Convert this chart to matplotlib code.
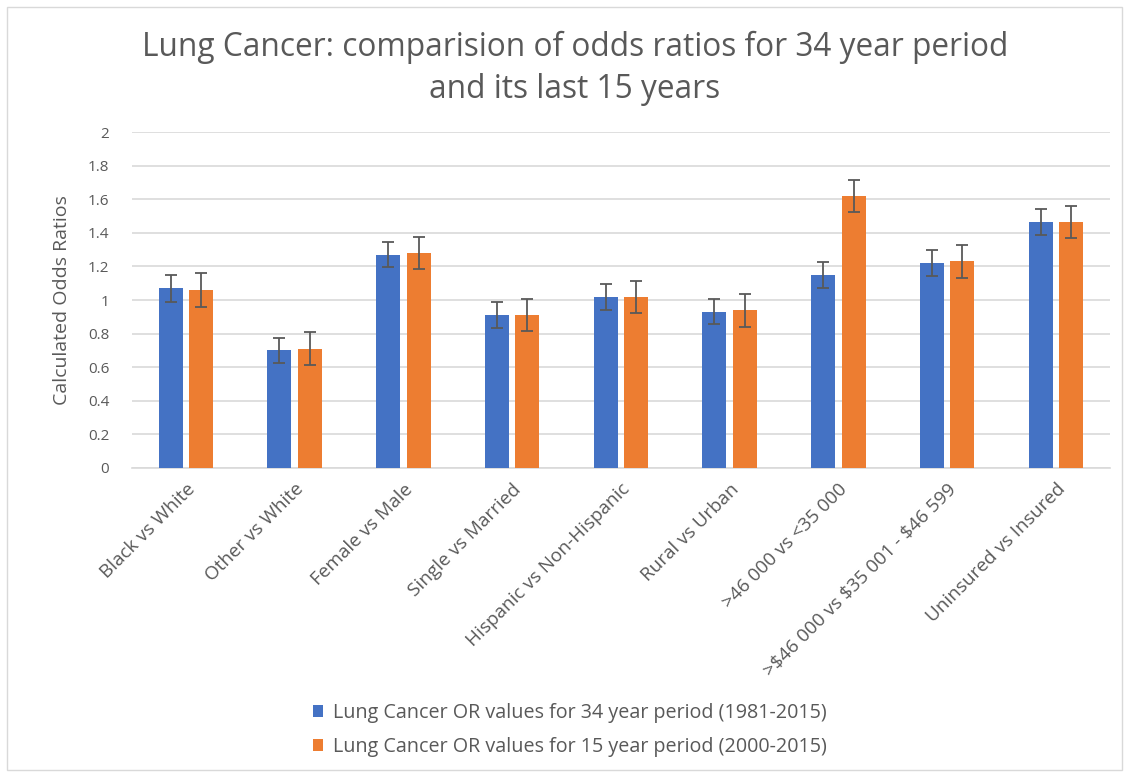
import matplotlib
matplotlib.use('Agg')
import matplotlib.pyplot as plt
import numpy as np
from matplotlib.patches import Rectangle

plt.rcParams['font.family'] = ['Open Sans', 'DejaVu Sans']

categories = ['Black vs White', 'Other vs White', 'Female vs Male', 'Single vs Married',
              'Hispanic vs Non-Hispanic', 'Rural vs Urban', '>46 000 vs <35 000',
              '>$46 000 vs $35 001 - $46 599', 'Uninsured vs Insured']
or_34yr = [1.07, 0.70, 1.27, 0.91, 1.02, 0.93, 1.15, 1.22, 1.465]
err_34yr = [0.08, 0.076, 0.076, 0.076, 0.077, 0.076, 0.076, 0.076, 0.076]
or_15yr = [1.06, 0.71, 1.28, 0.91, 1.02, 0.94, 1.62, 1.23, 1.465]
err_15yr = [0.1, 0.097, 0.097, 0.097, 0.096, 0.098, 0.096, 0.097, 0.097]
label_34 = 'Lung Cancer OR values for 34 year period (1981-2015)'
label_15 = 'Lung Cancer OR values for 15 year period (2000-2015)'

blue = '#4472c4'
orange = '#ed7d31'
grey = '#595959'

fig = plt.figure(figsize=(11.34, 7.75), dpi=100)
ax = fig.add_axes([0.116, 0.3965, 0.863, 0.4328])

x = np.arange(len(categories))
w = 0.22
ekw = dict(ecolor=grey, elinewidth=1.3, capsize=4.5, capthick=1.3)
ax.bar(x - 0.14, or_34yr, w, color=blue, yerr=err_34yr, error_kw=ekw, label=label_34, zorder=3)
ax.bar(x + 0.14, or_15yr, w, color=orange, yerr=err_15yr, error_kw=ekw, label=label_15, zorder=3)

ax.set_xlim(-0.5, len(categories) - 0.5)
ax.set_ylim(0, 2)
ax.set_yticks(np.arange(0, 2.01, 0.2))
ax.set_yticklabels(['0', '0.2', '0.4', '0.6', '0.8', '1', '1.2', '1.4', '1.6', '1.8', '2'])
ax.set_xticks(x)
ax.set_xticklabels(categories, rotation=45, ha='right', rotation_mode='anchor')
ax.tick_params(axis='both', length=0, colors=grey)
ax.tick_params(axis='x', pad=9, labelsize=13.6)
ax.tick_params(axis='y', pad=16, labelsize=11)
ax.grid(axis='y', color='#d9d9d9', linewidth=1.2, zorder=0)
for s in ['top', 'right', 'left']:
    ax.spines[s].set_visible(False)
ax.spines['bottom'].set_color('#d9d9d9')
ax.spines['bottom'].set_linewidth(1.2)

ax.set_ylabel('Calculated Odds Ratios', color=grey, fontsize=14, labelpad=12)

fig.text(0.507, 0.912, 'Lung Cancer: comparision of odds ratios for 34 year period\nand its last 15 years',
         ha='center', va='center', fontsize=22.8, color=grey, linespacing=1.38)

fig.legend(loc='center left', bbox_to_anchor=(0.26, 0.058), frameon=False, ncol=1,
           fontsize=14.2, labelcolor=grey, handlelength=0.55, handleheight=0.55,
           handletextpad=0.5, labelspacing=0.72)

fig.patches.append(Rectangle((0.006, 0.006), 0.983, 0.985, transform=fig.transFigure,
                             fill=False, edgecolor='#d9d9d9', linewidth=1))

fig.savefig('out.png', dpi=100)
